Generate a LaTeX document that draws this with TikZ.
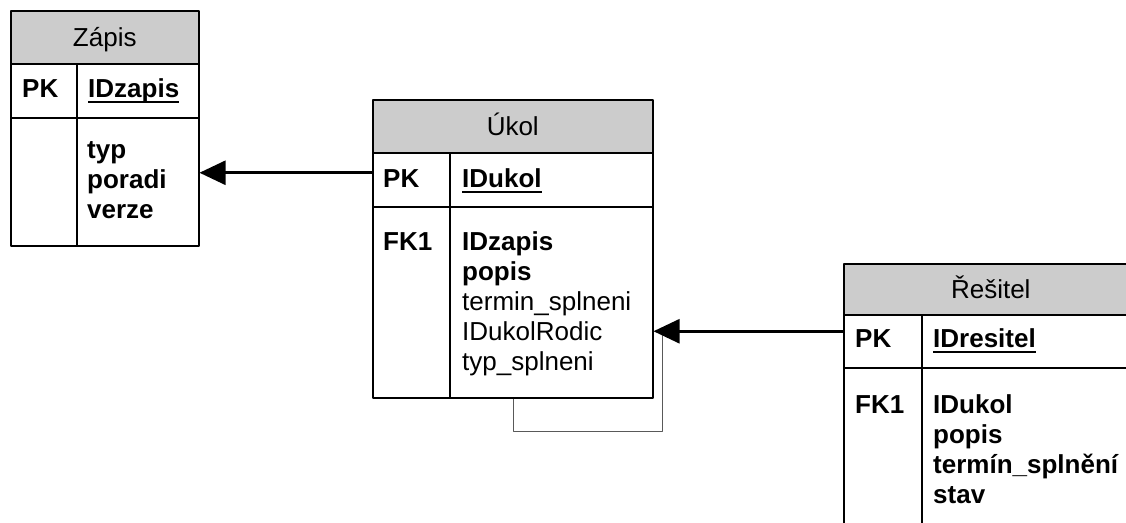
\documentclass[tikz,border=0pt]{standalone}
\usepackage{fontspec}
\setmainfont{Liberation Sans}
\usetikzlibrary{arrows.meta}
\newcommand\klic[1]{\setbox0\hbox{#1}\rlap{\rule[-5.5pt]{\wd0}{2pt}}\box0}
\begin{document}
\begin{tikzpicture}[x=1pt,y=-1pt, line join=round,
    every node/.style={font=\fontsize{26}{30}\selectfont, inner sep=0pt},
    hlava/.style={draw, line width=1.5pt, fill=black!20, anchor=north west,
        text height=21pt, text depth=2pt},
    radek/.style={draw, line width=1.5pt, anchor=north west},
    popisek/.style={anchor=base west, font=\fontsize{26}{30}\selectfont\bfseries},
    telo/.style={anchor=base west, align=left},
    delic/.style={line width=1.5pt},
    sipka/.style={line width=2.6pt, -{Triangle[length=26pt, width=24pt]}},
    smycka/.style={line width=0.8pt, black!65}]
    \useasboundingbox (0,0) rectangle (1126,522);
    \clip (0,0) rectangle (1126,522);
    % Zapis
    \node[hlava, minimum width=188pt, minimum height=53pt] (zapis) at (10,10) {Zápis};
    \node[radek, minimum width=188pt, minimum height=54pt] (zapispk) at (10,63) {};
    \node[radek, minimum width=188pt, minimum height=128pt] (zapisbody) at (10,117) {};
    \draw[delic] ([xshift=67pt]zapispk.north west) -- ([xshift=67pt]zapisbody.south west);
    \node[popisek] (zapispkk) at (22,97) {PK};
    \node[popisek] (zapisid) at (88,97) {\klic{IDzapis}};
    % base = posledni radek
    \node[telo] (zapistext) at (87,218) {\textbf{typ}\\\textbf{poradi}\\\textbf{verze}};
    % Ukol
    \node[hlava, minimum width=280pt, minimum height=53pt] (ukol) at (372,99) {Úkol};
    \node[radek, minimum width=280pt, minimum height=54pt] (ukolpk) at (372,152) {};
    \node[radek, minimum width=280pt, minimum height=191pt] (ukolbody) at (372,206) {};
    \draw[delic] ([xshift=78pt]ukolpk.north west) -- ([xshift=78pt]ukolbody.south west);
    \node[popisek] (ukolpkk) at (383,187) {PK};
    \node[popisek] (ukolid) at (462,187) {\klic{IDukol}};
    \node[popisek] (ukolfk) at (383,250) {FK1};
    \node[telo] (ukoltext) at (462,370) {\textbf{IDzapis}\\\textbf{popis}\\termin\_splneni\\IDukolRodic\\typ\_splneni};
    % Resitel
    \node[hlava, minimum width=294pt, minimum height=51pt] (resitel) at (843,263) {Řešitel};
    \node[radek, minimum width=294pt, minimum height=53pt] (resitelpk) at (843,314) {};
    \node[radek, minimum width=294pt, minimum height=200pt] (resitelbody) at (843,367) {};
    \draw[delic] ([xshift=79pt]resitelpk.north west) -- ([xshift=79pt]resitelbody.south west);
    \node[popisek] (resitelpkk) at (855,347) {PK};
    \node[popisek] (resitelid) at (933,347) {\klic{IDresitel}};
    \node[popisek] (resitelfk) at (855,413) {FK1};
    \node[telo, font=\fontsize{26}{30}\selectfont\bfseries] (reseteltext) at (933,503) {IDukol\\popis\\termín\_splnění\\stav};
    % vazby
    \coordinate (hrot) at ([yshift=10pt]resitelpk.west -| ukolbody.east);
    \draw[smycka] ([xshift=141pt]ukolbody.south west) -- ++(0,33) -| ([xshift=9pt]hrot);
    \draw[sipka] ([yshift=7pt]ukolpk.west) -- ([yshift=7pt]ukolpk.west -| zapisbody.east);
    \draw[sipka] ([yshift=10pt]resitelpk.west) -- (hrot);
\end{tikzpicture}
\end{document}
